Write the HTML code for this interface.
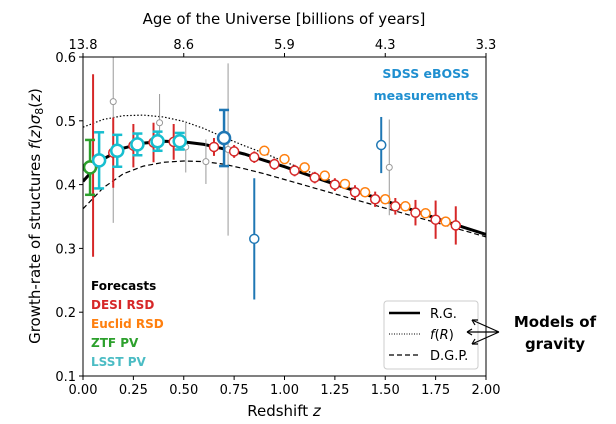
<!DOCTYPE html>
<html><head><meta charset="utf-8"><style>
body{margin:0;background:#fff}
svg{display:block;font-family:"DejaVu Sans","Liberation Sans",sans-serif}
</style></head><body>
<svg id="chart" width="616" height="424" viewBox="0 0 616 424">
<defs><clipPath id="plotclip"><rect x="83" y="57" width="403" height="319"/></clipPath></defs>
<g id="plot" clip-path="url(#plotclip)"></g>
</svg>
<script>
const xTicks=[0,0.25,0.5,0.75,1.0,1.25,1.5,1.75,2.0];
const xTickLabels=["0.00","0.25","0.50","0.75","1.00","1.25","1.50","1.75","2.00"];
const yTicks=[0.1,0.2,0.3,0.4,0.5,0.6];
const yTickLabels=["0.1","0.2","0.3","0.4","0.5","0.6"];
const ageTicks=[0,0.5,1.0,1.5,2.0];
const ageLabels=["13.8","8.6","5.9","4.3","3.3"];
const curveZ=[0,0.1,0.2,0.3,0.4,0.5,0.6,0.7,0.8,0.9,1.0,1.2,1.4,1.6,1.8,2.0];
const rgVals=[0.405,0.44,0.457,0.465,0.468,0.467,0.463,0.456,0.448,0.438,0.428,0.406,0.385,0.364,0.342,0.322];
const frVals=[0.49,0.502,0.508,0.509,0.506,0.499,0.488,0.474,0.461,0.449,0.436,0.41,0.387,0.363,0.342,0.322];
const dgpVals=[0.362,0.395,0.417,0.429,0.435,0.437,0.436,0.432,0.425,0.417,0.408,0.39,0.372,0.354,0.336,0.318];
const grayZ=[0.15,0.38,0.51,0.61,0.72,1.52];
const grayV=[0.53,0.497,0.459,0.436,0.455,0.427];
const grayE=[0.19,0.045,0.04,0.035,0.135,0.075];
const desiZ=[0.05,0.15,0.25,0.35,0.45,0.65,0.75,0.85,0.95,1.05,1.15,1.25,1.35,1.45,1.55,1.65,1.75,1.85];
const desiV=[0.43,0.45,0.461,0.466,0.467,0.459,0.452,0.443,0.432,0.422,0.411,0.4,0.388,0.377,0.366,0.356,0.345,0.336];
const desiE=[0.143,0.055,0.034,0.031,0.028,0.014,0.01,0.009,0.009,0.009,0.009,0.01,0.011,0.012,0.013,0.02,0.03,0.03];
const euclidZ=[0.9,1.0,1.1,1.2,1.3,1.4,1.5,1.6,1.7,1.8];
const euclidV=[0.453,0.44,0.427,0.414,0.401,0.388,0.377,0.366,0.355,0.342];
const ztfZ=[0.035];const ztfV=[0.427];const ztfE=[0.043];
const lsstZ=[0.08,0.17,0.27,0.37,0.48];
const lsstV=[0.438,0.453,0.463,0.468,0.468];
const lsstE=[0.044,0.025,0.017,0.015,0.013];
const sdssZ=[0.70,0.85,1.48];
const sdssV=[0.473,0.315,0.462];
const sdssE=[0.044,0.095,0.044];

const X0=83,X1=486,Y0=376,Y1=57;
const xs=z=>X0+(z/2)*(X1-X0);
const ys=v=>Y0-(v-0.1)/0.5*(Y0-Y1);
const svg=document.getElementById('chart');
const plot=document.getElementById('plot');


const NS='http://www.w3.org/2000/svg';
function mk(tag,attrs,parent){const e=document.createElementNS(NS,tag);for(const k in attrs)e.setAttribute(k,attrs[k]);(parent||svg).appendChild(e);return e;}
function txt(s,attrs,parent){const e=mk('text',attrs,parent);e.textContent=s;return e;}

function curve(vals,dash,w,name){
  const d=curveZ.map((z,i)=>(i?'L':'M')+xs(z).toFixed(1)+','+ys(vals[i]).toFixed(1)).join('');
  const p=mk('path',{d:d,fill:'none',stroke:'#000','stroke-width':w,'stroke-dasharray':dash},plot);
  
  
}
curve(frVals,'1.5,2',1.2,'fr-curve');
curve(dgpVals,'5,3',1.2,'dgp-curve');
curve(rgVals,'none',3,'rg-curve');

function points(Z,V,E,color,r,sw,capw,name,ew){
  const g=mk('g',{},plot);
  
  
  Z.forEach((z,i)=>{
    const x=xs(z),y=ys(V[i]);
    if(E){
      const l=mk('line',{x1:x,x2:x,y1:ys(V[i]+E[i]),y2:ys(V[i]-E[i]),stroke:color,'stroke-width':ew||sw},g);
      
      
      if(capw){
        [V[i]+E[i],V[i]-E[i]].forEach(v=>{const c=mk('line',{x1:x-capw,x2:x+capw,y1:ys(v),y2:ys(v),stroke:color,'stroke-width':sw},g);
        
        });
      }
    }
    const c=mk('circle',{cx:x,cy:y,r:r,fill:'#fff',stroke:color,'stroke-width':sw},g);
    
    
  });
}
points(grayZ,grayV,grayE,'#999',3,1,0,'archival',1);
points(desiZ,desiV,desiE,'#d62728',4.5,1.5,0,'desi',2);
points(euclidZ,euclidV,null,'#ff7f0e',4.5,1.5,0,'euclid');
points(ztfZ,ztfV,ztfE,'#2ca02c',6,2.5,5,'ztf');
points(lsstZ,lsstV,lsstE,'#17becf',6,2.5,5,'lsst');
points(sdssZ.slice(0,1),sdssV.slice(0,1),sdssE.slice(0,1),'#1f77b4',6,2.5,5,'sdss-large');
points(sdssZ.slice(1),sdssV.slice(1),sdssE.slice(1),'#1f77b4',4.5,1.5,0,'sdss',2);

const f=mk('rect',{x:X0,y:Y1,width:X1-X0,height:Y0-Y1,fill:'none',stroke:'#000','stroke-width':1});


xTicks.forEach((t,i)=>{const x=xs(t);mk('line',{x1:x,x2:x,y1:Y0,y2:Y0+4,stroke:'#000'});
  const e=txt(xTickLabels[i],{x:x,y:Y0+18,'text-anchor':'middle','font-size':13});
  
  });
yTicks.forEach((t,i)=>{const y=ys(t);mk('line',{x1:X0-4,x2:X0,y1:y,y2:y,stroke:'#000'});
  const e=txt(yTickLabels[i],{x:X0-7,y:y+5,'text-anchor':'end','font-size':13});
  
  });
ageTicks.forEach((t,i)=>{const x=xs(t);mk('line',{x1:x,x2:x,y1:Y1-4,y2:Y1,stroke:'#000'});
  const e=txt(ageLabels[i],{x:x,y:Y1-8,'text-anchor':'middle','font-size':13});
  
  });
</script>
<script>
const s=document.getElementById('chart');
s.insertAdjacentHTML('beforeend',`
<text x="284" y="24" text-anchor="middle" font-size="15">Age of the Universe [billions of years]</text>
<text x="284" y="416" text-anchor="middle" font-size="15">Redshift <tspan font-style="italic">z</tspan></text>
<text transform="translate(40,216) rotate(-90)" text-anchor="middle" font-size="15">Growth-rate of structures <tspan font-style="italic">f</tspan>(<tspan font-style="italic">z</tspan>)<tspan font-style="italic">σ</tspan><tspan font-size="11" dy="3">8</tspan><tspan dy="-3">(</tspan><tspan font-style="italic">z</tspan>)</text>
<g font-weight="bold" font-size="12.5" fill="#1f8fd0" text-anchor="middle">
<text x="426" y="78">SDSS eBOSS</text><text x="426" y="100">measurements</text></g>
<g font-weight="bold" font-size="12">
<text x="91" y="290" fill="#000">Forecasts</text>
<text x="91" y="309" fill="#d62728">DESI RSD</text>
<text x="91" y="328" fill="#ff7f0e">Euclid RSD</text>
<text x="91" y="347" fill="#2ca02c">ZTF PV</text>
<text x="91" y="366" fill="#4bbcc4">LSST PV</text></g>
<g>
<rect x="384" y="301" width="94" height="68" rx="3" fill="#fff" stroke="#ccc"/>
<line x1="389" x2="420" y1="313" y2="313" stroke="#000" stroke-width="2.5"/>
<text x="430" y="318" font-size="13">R.G.</text>
<line x1="389" x2="420" y1="334" y2="334" stroke="#000" stroke-width="1" stroke-dasharray="1,1.5"/>
<text x="430" y="339" font-size="13"><tspan font-style="italic">f</tspan>(<tspan font-style="italic">R</tspan>)</text>
<line x1="389" x2="420" y1="355" y2="355" stroke="#000" stroke-width="1.2" stroke-dasharray="5,3"/>
<text x="430" y="360" font-size="13">D.G.P.</text></g>
<g stroke="#000" stroke-width="1.2" fill="none">
<path d="M499,332 L472,320 M499,332 L467,332 M499,332 L472,344"/>
<path d="M472,320 l6,0 M472,320 l3,5 M467,332 l5,-3 M467,332 l5,3 M472,344 l6,0 M472,344 l3,-5"/></g>
<g font-weight="bold" font-size="15" text-anchor="middle">
<text x="555" y="327">Models of</text><text x="555" y="349">gravity</text></g>`);
</script>
</body></html>
